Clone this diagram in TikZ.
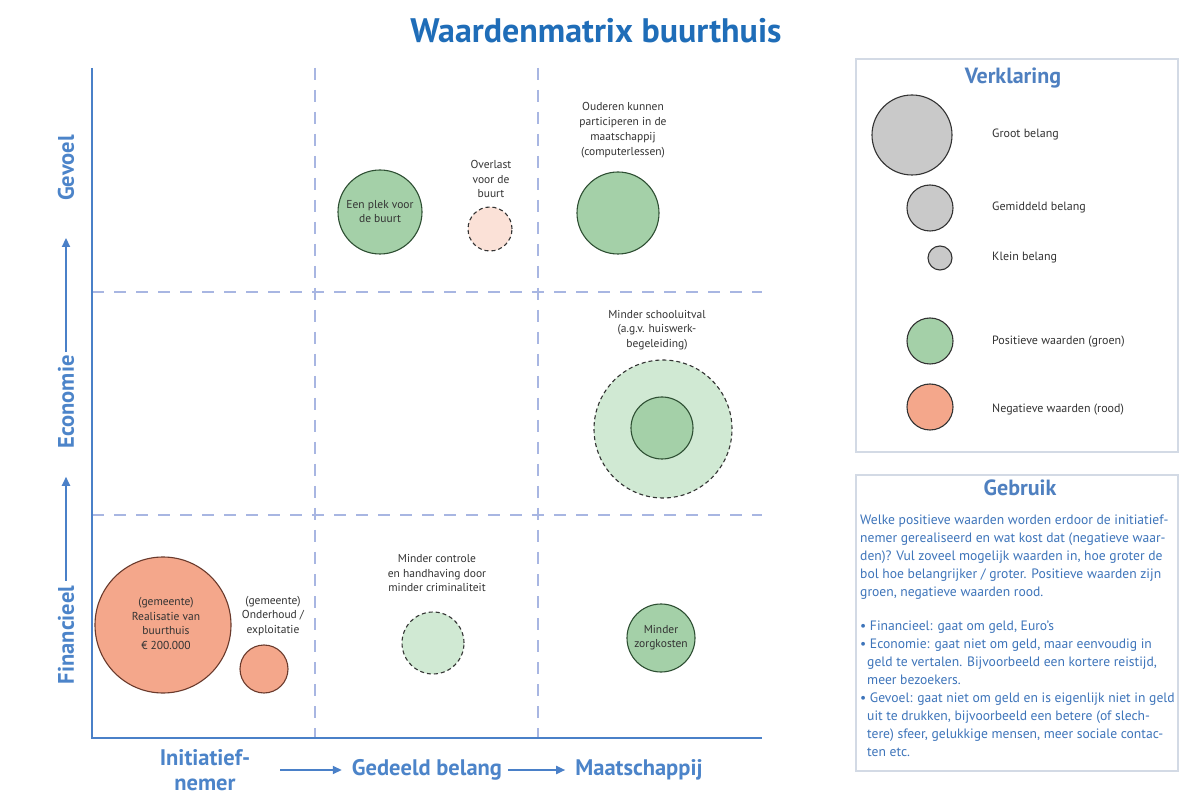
\documentclass[tikz,border=0pt]{standalone}
\usepackage{fontspec}
\setmainfont{PT Sans}
\usetikzlibrary{arrows.meta}

\definecolor{titleblue}{HTML}{1F6DB8}
\definecolor{axisblue}{HTML}{4A80C8}
\definecolor{labelblue}{HTML}{4C84C9}
\definecolor{headblue}{HTML}{4F80C0}
\definecolor{gridblue}{HTML}{A8B6E2}
\definecolor{posfill}{HTML}{A4D0A8}
\definecolor{posline}{HTML}{2E4F33}
\definecolor{lightpos}{HTML}{D0E9D3}
\definecolor{negfill}{HTML}{F4A78B}
\definecolor{negline}{HTML}{6A3A2C}
\definecolor{palered}{HTML}{FBE1D7}
\definecolor{greyfill}{HTML}{C9C9C9}
\definecolor{inkgrey}{HTML}{333333}
\definecolor{boxline}{HTML}{D3DAE5}
\definecolor{bodyblue}{HTML}{3D74BA}

\begin{document}
\begin{tikzpicture}[x=1pt,y=-1pt,
  bubble/.style={circle, line width=1.1pt, minimum size=#1, inner sep=0pt,
    font=\fontsize{11.5}{14}\selectfont, text=inkgrey, align=center},
  pos/.style={bubble=#1, draw=posline, fill=posfill},
  neg/.style={bubble=#1, draw=negline, fill=negfill},
  weakpos/.style={bubble=#1, draw=inkgrey, fill=lightpos, dashed, dash pattern=on 4pt off 3pt},
  weakneg/.style={bubble=#1, draw=inkgrey, fill=palered, dashed, dash pattern=on 4pt off 3pt},
  legendbub/.style={bubble=#1, draw=inkgrey, fill=greyfill},
  note/.style={font=\fontsize{11.5}{14.5}\selectfont, text=inkgrey, align=center, inner sep=0pt},
  legendtext/.style={font=\fontsize{12}{14}\selectfont, text=inkgrey, anchor=west, inner sep=0pt},
  axislabel/.style={font=\fontsize{22.5}{25}\selectfont\bfseries, text=labelblue, align=center, inner sep=0pt},
  axisline/.style={draw=axisblue, line width=2.4pt},
  gridline/.style={draw=gridblue, line width=1.4pt, dash pattern=on 12pt off 10pt},
  axisarrow/.style={draw=axisblue, line width=1.8pt, -{Triangle[length=9pt,width=8pt]}},
  panel/.style={draw=boxline, line width=1.5pt},
  panelhead/.style={font=\fontsize{22}{24}\selectfont\bfseries, text=headblue, inner sep=0pt}
]
\useasboundingbox[fill=white] (0,0) rectangle (1179,799);

% title
\node[font=\fontsize{34}{38}\selectfont\bfseries, text=titleblue, inner sep=0pt] (title) at (596,31) {Waardenmatrix buurthuis};

% grid of the matrix
\draw[gridline] (315,68) -- (315,738);
\draw[gridline] (538,68) -- (538,738);
\draw[gridline] (92,292) -- (762,292);
\draw[gridline] (92,515) -- (762,515);

% axes
\coordinate (ytop) at (92,68);
\coordinate (origin) at (92,738);
\coordinate (xend) at (762,738);
\draw[axisline] (ytop) -- (origin) -- (xend);

% vertical axis labels
\node[axislabel, rotate=90] (fin) at (66,635) {Financieel};
\node[axislabel, rotate=90] (eco) at (66,402) {Economie};
\node[axislabel, rotate=90] (gev) at (66,168) {Gevoel};
\draw[axisarrow, shorten <=5pt, shorten >=28pt] (fin.east) -- (eco.west);
\draw[axisarrow, shorten <=3pt, shorten >=37pt] (eco.east) -- (gev.west);

% horizontal axis labels
\node[axislabel] (init) at (205,770) {Initiatief-\\nemer};
\node[axislabel] (ged) at (427,770) {Gedeeld belang};
\node[axislabel] (maat) at (639,770) {Maatschappij};
\draw[axisarrow, shorten <=30pt, shorten >=10pt] (init.east) -- (ged.west);
\draw[axisarrow, shorten <=6pt, shorten >=10pt] (ged.east) -- (maat.west);

% values: financieel
\node[neg=136pt] (real) at (163,625) {};
\node[note] (realtxt) at (166,623.5) {(gemeente)\\Realisatie van\\buurthuis\\€ 200.000};
\node[neg=48pt] (onder) at (264,669) {};
\node[note] (ondertxt) at (273,616) {(gemeente)\\Onderhoud /\\exploitatie};
\node[weakpos=62pt] (controle) at (433,643) {};
\node[note] (controletxt) at (437,573) {Minder controle\\en handhaving door\\minder criminaliteit};
\node[pos=68pt] (zorg) at (661,638) {Minder\\zorgkosten};

% values: economie
\node[weakpos=138pt] (schoolout) at (663,429) {};
\node[pos=62pt] (schoolin) at (662,428) {};
\node[note] (schooltxt) at (657,330) {Minder schooluitval\\(a.g.v. huiswerk-\\begeleiding)};

% values: gevoel
\node[pos=84pt] (plek) at (380,212) {Een plek voor\\de buurt};
\node[weakneg=44pt] (overlast) at (490,229) {};
\node[note] (overlasttxt) at (491,179) {Overlast\\voor de\\buurt};
\node[pos=82pt] (ouderen) at (618,213) {};
\node[note, font=\fontsize{11.5}{15}\selectfont] (ouderentxt) at (623,130.5) {Ouderen kunnen\\participeren in de\\maatschappij\\(computerlessen)};

% legend panel
\draw[panel] (856,59) rectangle (1178,452);
\node[panelhead] (verklaring) at (1013,78) {Verklaring};
\node[legendbub=80pt] (groot) at (912,135) {};
\node[legendtext] (grootlbl) at (992,135) {Groot belang};
\node[legendbub=46pt] (gemid) at (930,208) {};
\node[legendtext] (gemidlbl) at (992,208) {Gemiddeld belang};
\node[legendbub=24pt] (klein) at (940,258) {};
\node[legendtext] (kleinlbl) at (992,258) {Klein belang};
\node[pos=46pt, draw=inkgrey] (posleg) at (930,341) {};
\node[legendtext] (posleglbl) at (992,342) {Positieve waarden (groen)};
\node[neg=46pt, draw=inkgrey] (negleg) at (930,407) {};
\node[legendtext] (negleglbl) at (992,410) {Negatieve waarden (rood)};

% usage panel
\draw[panel] (856,475) rectangle (1178,771);
\node[panelhead] (gebruik) at (1020,488) {Gebruik};
\node[font=\fontsize{13.6}{18}\selectfont, text=bodyblue, align=left, anchor=north west, inner sep=0pt] (uitleg) at (860,515)
{Welke positieve waarden worden erdoor de initiatief-\\
nemer gerealiseerd en wat kost dat (negatieve waar-\\
den)? Vul zoveel mogelijk waarden in, hoe groter de\\
bol hoe belangrijker / groter. Positieve waarden zijn\\
groen, negatieve waarden rood.\\[16pt]
• Financieel: gaat om geld, Euro’s\\
• Economie: gaat niet om geld, maar eenvoudig in\\
\hspace*{7pt}geld te vertalen. Bijvoorbeeld een kortere reistijd,\\
\hspace*{7pt}meer bezoekers.\\
• Gevoel: gaat niet om geld en is eigenlijk niet in geld\\
\hspace*{7pt}uit te drukken, bijvoorbeeld een betere (of slech-\\
\hspace*{7pt}tere) sfeer, gelukkige mensen, meer sociale contac-\\
\hspace*{7pt}ten etc.};
\end{tikzpicture}
\end{document}
